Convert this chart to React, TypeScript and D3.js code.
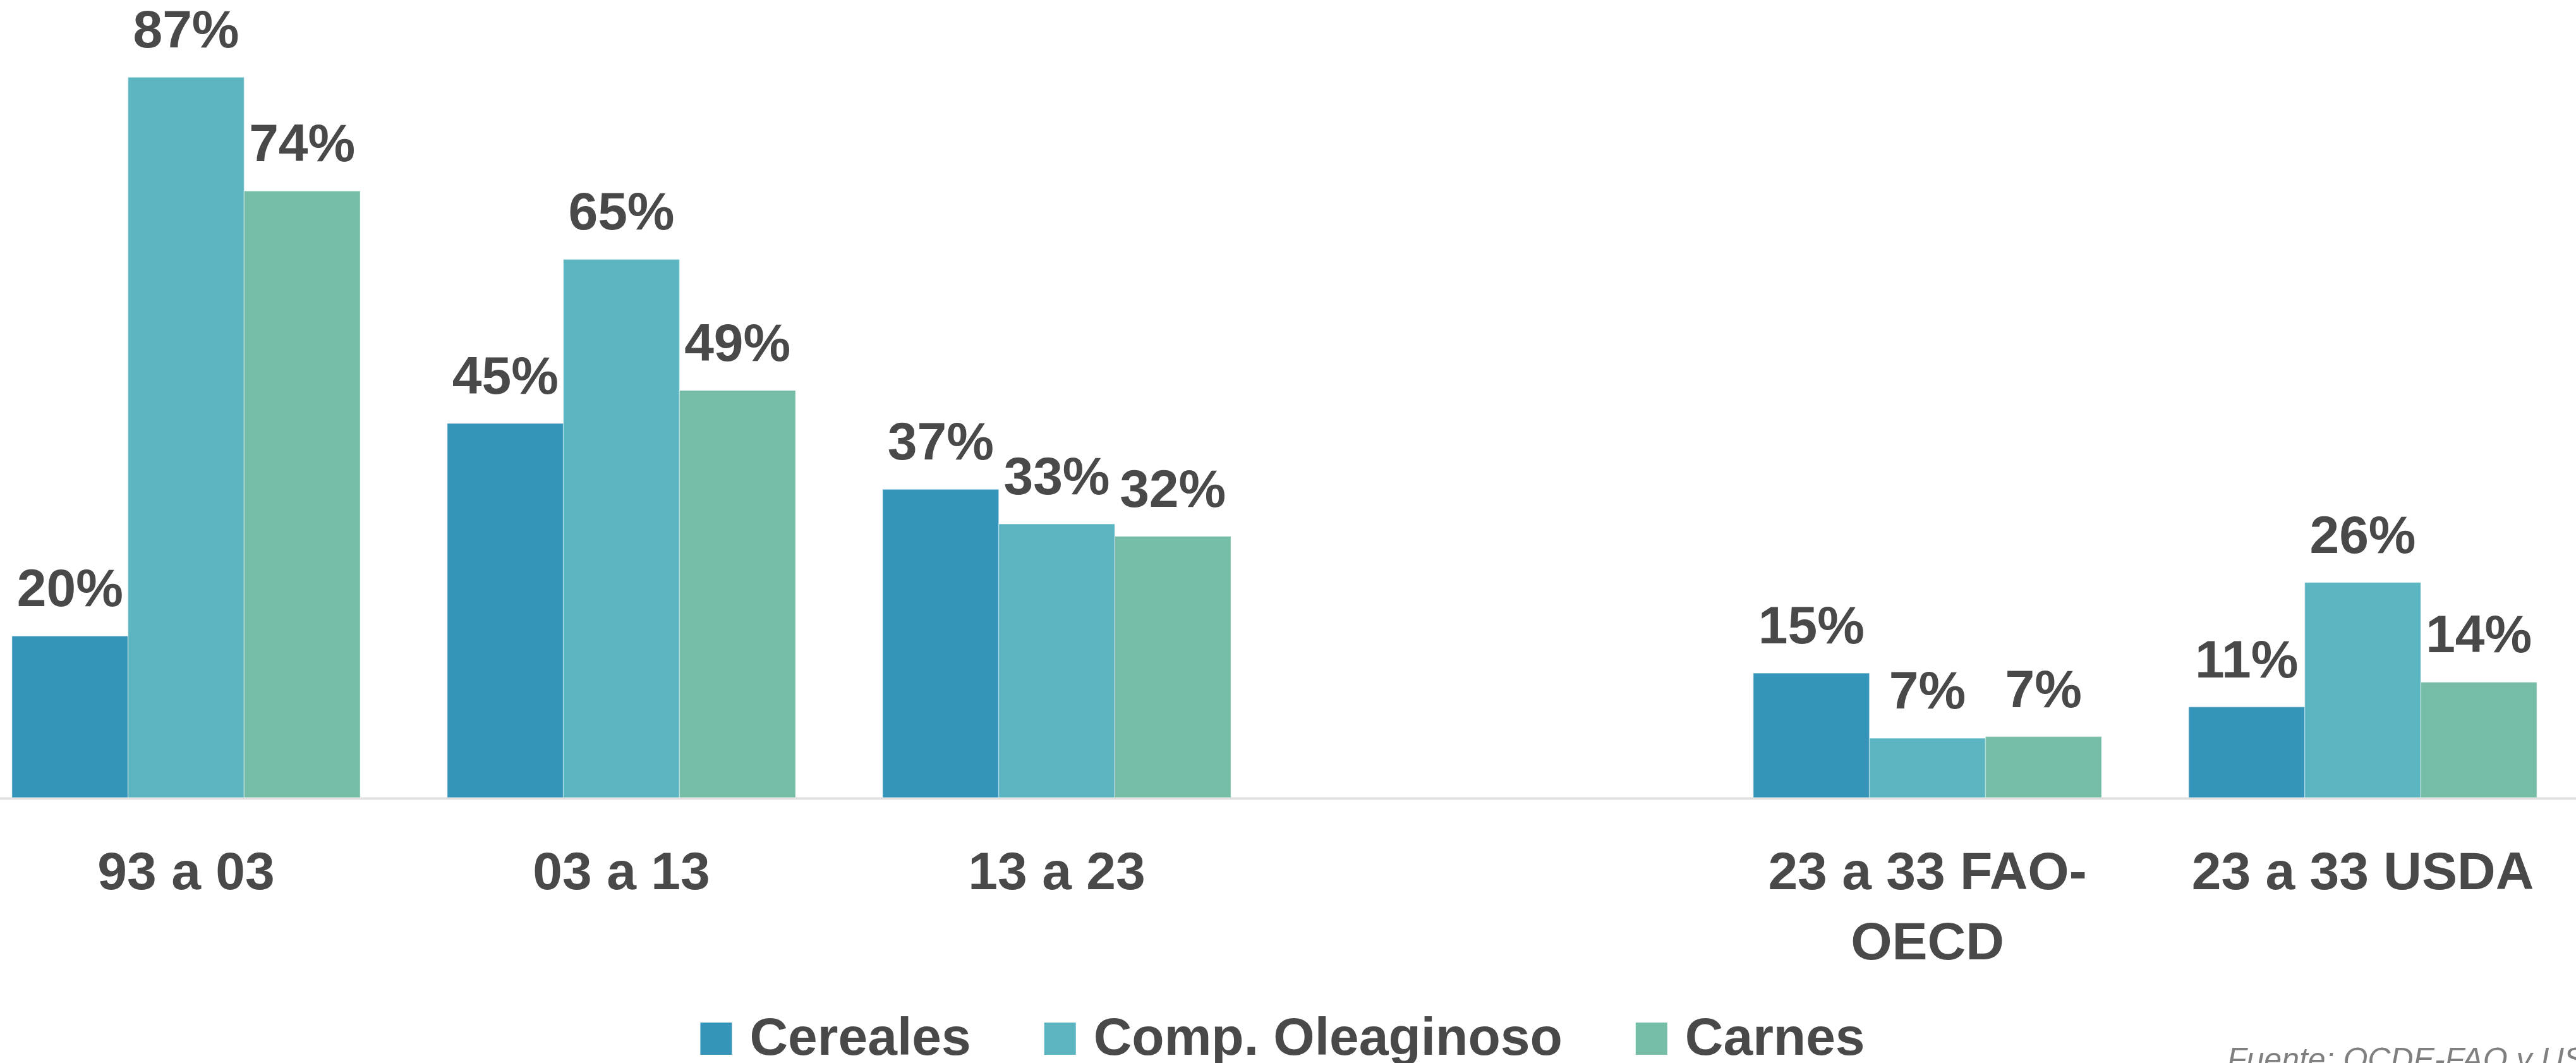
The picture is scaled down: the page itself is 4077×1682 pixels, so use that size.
import { useRef, useEffect } from 'react';
import * as d3 from 'd3';

// categorias (la cuarta queda vacia como separador)
const categories = ['93 a 03', '03 a 13', '13 a 23', '', '23 a 33 FAO-OECD', '23 a 33 USDA'];
const cereales = [19.6, 45.4, 37.4, null, 15.1, 11.0];
const oleaginoso = [87.4, 65.3, 33.2, null, 7.2, 26.1];
const carnes = [73.6, 49.4, 31.7, null, 7.4, 14.0];
const seriesNames = ['Cereales', 'Comp. Oleaginoso', 'Carnes'];
const seriesColors = ['#3594ba', '#5ab5c0', '#76bda7'];
const sourceNote = 'Fuente: OCDE-FAO y USDA';

const W = 4077;
const H = 1682;
const FONT = '"Liberation Sans", Arial, sans-serif';
const TEXT = '#494949';

export default function App() {
  const svgRef = useRef<SVGSVGElement>(null);

  useEffect(() => {
    const svg = d3.select(svgRef.current);
    svg.selectAll('*').remove();

    const baseY = 1262;
    const x0 = d3.scaleBand().domain(categories).range([-50, 4084]).paddingInner(0.2).paddingOuter(0.1);
    const x1 = d3.scaleBand().domain(seriesNames).range([0, x0.bandwidth()]);
    const y = d3.scaleLinear().domain([0, 100]).range([baseY, baseY - 1304]);

    const series = [cereales, oleaginoso, carnes];
    const rows = categories.flatMap((c, i) =>
      seriesNames.map((s, j) => ({ cat: c, name: s, color: seriesColors[j], v: series[j][i] }))
    ).filter(d => d.v != null);

    // eje
    svg.append('line')
      .attr('x1', 0).attr('x2', W)
      .attr('y1', baseY + 1.5).attr('y2', baseY + 1.5)
      .attr('stroke', '#e0e0e0').attr('stroke-width', 4);

    svg.selectAll('rect.bar')
      .data(rows)
      .enter()
      .append('rect')
      .attr('class', 'bar')
      .attr('x', d => x0(d.cat)! + x1(d.name)!)
      .attr('y', d => y(d.v as number))
      .attr('width', x1.bandwidth())
      .attr('height', d => baseY - y(d.v as number))
      .attr('fill', d => d.color)
      .attr('stroke', '#ffffff')
      .attr('stroke-opacity', 0.35)
      .attr('stroke-width', 1.5);

    svg.selectAll('text.val')
      .data(rows)
      .enter()
      .append('text')
      .attr('class', 'val')
      .attr('x', d => x0(d.cat)! + x1(d.name)! + x1.bandwidth() / 2)
      .attr('y', d => y(d.v as number) - 47)
      .attr('text-anchor', 'middle')
      .attr('font-family', FONT)
      .attr('font-weight', 'bold')
      .attr('font-size', 84)
      .attr('fill', TEXT)
      .text(d => Math.round(d.v as number) + '%');

    // etiquetas de categoria, cortando despues del guion
    categories.forEach(c => {
      if (!c) return;
      const k = c.indexOf('-');
      const lines = k >= 0 ? [c.slice(0, k + 1), c.slice(k + 1)] : [c];
      const t = svg.append('text')
        .attr('text-anchor', 'middle')
        .attr('font-family', FONT)
        .attr('font-weight', 'bold')
        .attr('font-size', 84)
        .attr('fill', TEXT);
      lines.forEach((ln, i) => {
        t.append('tspan')
          .attr('x', x0(c)! + x0.bandwidth() / 2)
          .attr('y', 1407 + i * 111)
          .text(ln);
      });
    });

    // leyenda
    const legend = svg.append('g');
    let cx = 0;
    seriesNames.forEach((s, i) => {
      legend.append('rect')
        .attr('x', cx).attr('y', 1618)
        .attr('width', 50).attr('height', 51)
        .attr('fill', seriesColors[i]);
      const t = legend.append('text')
        .attr('x', cx + 78).attr('y', 1669)
        .attr('font-family', FONT)
        .attr('font-weight', 'bold')
        .attr('font-size', 84)
        .attr('fill', TEXT)
        .text(s);
      const w = (t.node() as SVGTextElement).getComputedTextLength();
      cx += 78 + w + 116;
    });
    const legW = cx - 116;
    legend.attr('transform', `translate(${2030 - legW / 2},0)`);

    svg.append('text')
      .attr('x', 3525).attr('y', 1693)
      .attr('font-family', FONT)
      .attr('font-style', 'italic')
      .attr('font-size', 50)
      .attr('fill', '#7f7f7f')
      .text(sourceNote);
  }, []);

  return (
    <svg ref={svgRef} width={W} height={H}
      style={{ position: 'absolute', left: 0, top: 0, background: '#ffffff' }} />
  );
}
